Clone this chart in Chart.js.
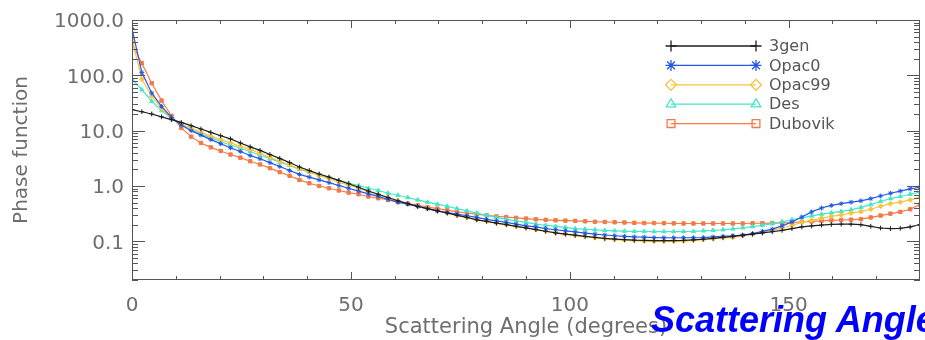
<!DOCTYPE html>
<html>
<head>
<meta charset="utf-8">
<title>Phase function</title>
<script src="https://cdn.jsdelivr.net/npm/chart.js@4"></script>
<style>
  html, body { margin: 0; padding: 0; background: #fff; }
  body { width: 925px; height: 340px; overflow: hidden; position: relative; }
  #phaseChart { display: block; }
  .overlay-title {
    position: absolute; left: 651px; top: 302px;
    font: italic bold 36px "Liberation Sans", Arial, sans-serif;
    line-height: 36px; color: #0000ff; white-space: nowrap;
  }
</style>
</head>
<body>
<canvas id="phaseChart" width="925" height="340"></canvas>
<div class="overlay-title">Scattering Angle</div>
<script>
// Scattering angles (degrees)
const angles = [
  0, 2.25, 4.5, 6.75, 9, 11.25, 13.5, 15.75, 18, 20.25,
  22.5, 24.75, 27, 29.25, 31.5, 33.75, 36, 38.25, 40.5, 42.75,
  45, 47.25, 49.5, 51.75, 54, 56.25, 58.5, 60.75, 63, 65.25,
  67.5, 69.75, 72, 74.25, 76.5, 78.75, 81, 83.25, 85.5, 87.75,
  90, 92.25, 94.5, 96.75, 99, 101.25, 103.5, 105.75, 108, 110.25,
  112.5, 114.75, 117, 119.25, 121.5, 123.75, 126, 128.25, 130.5, 132.75,
  135, 137.25, 139.5, 141.75, 144, 146.25, 148.5, 150.75, 153, 155.25,
  157.5, 159.75, 162, 164.25, 166.5, 168.75, 171, 173.25, 175.5, 177.75,
  180
];

// Phase function values
const gen3 = [
  24, 22, 20, 17.8, 15.8, 14.1, 12.3, 10.7, 9.3, 8.1,
  7.1, 6.0, 5.1, 4.4, 3.7, 3.15, 2.65, 2.2, 1.9, 1.65,
  1.45, 1.26, 1.1, 0.95, 0.81, 0.71, 0.62, 0.54, 0.48, 0.43,
  0.39, 0.355, 0.325, 0.295, 0.27, 0.245, 0.23, 0.213, 0.2, 0.187,
  0.175, 0.163, 0.152, 0.142, 0.135, 0.129, 0.123, 0.118, 0.113, 0.11,
  0.107, 0.105, 0.104, 0.103, 0.103, 0.103, 0.104, 0.106, 0.109, 0.113,
  0.118, 0.123, 0.129, 0.135, 0.142, 0.149, 0.158, 0.17, 0.182, 0.19,
  0.197, 0.202, 0.204, 0.204, 0.2, 0.187, 0.174, 0.17, 0.172, 0.182,
  0.2
];
const opac0 = [
  700, 112, 48, 27.5, 17.4, 12.6, 10, 8.3, 6.9, 5.8,
  4.9, 4.2, 3.55, 3.1, 2.65, 2.25, 1.9, 1.62, 1.45, 1.29,
  1.15, 1.02, 0.91, 0.81, 0.72, 0.65, 0.575, 0.51, 0.47, 0.425,
  0.39, 0.355, 0.33, 0.31, 0.29, 0.27, 0.25, 0.235, 0.22, 0.205,
  0.19, 0.182, 0.17, 0.162, 0.155, 0.148, 0.141, 0.135, 0.13, 0.126,
  0.123, 0.12, 0.119, 0.117, 0.116, 0.116, 0.116, 0.116, 0.117, 0.12,
  0.123, 0.126, 0.129, 0.138, 0.151, 0.166, 0.19, 0.224, 0.275, 0.34,
  0.4, 0.445, 0.48, 0.51, 0.54, 0.59, 0.66, 0.74, 0.81, 0.89,
  0.95
];
const opac99 = [
  450, 85, 42, 25, 17, 13.2, 11, 9.3, 7.9, 6.9,
  6.0, 5.2, 4.6, 3.9, 3.3, 2.8, 2.4, 2.05, 1.78, 1.55,
  1.35, 1.17, 1.05, 0.91, 0.79, 0.69, 0.62, 0.54, 0.48, 0.43,
  0.39, 0.355, 0.325, 0.295, 0.27, 0.245, 0.23, 0.213, 0.2, 0.187,
  0.175, 0.163, 0.152, 0.142, 0.134, 0.127, 0.122, 0.116, 0.111, 0.107,
  0.105, 0.103, 0.101, 0.1, 0.1, 0.1, 0.101, 0.104, 0.107, 0.111,
  0.115, 0.118, 0.126, 0.135, 0.145, 0.158, 0.174, 0.195, 0.22, 0.24,
  0.263, 0.282, 0.3, 0.325, 0.345, 0.38, 0.43, 0.48, 0.51, 0.56,
  0.62
];
const des = [
  85, 55, 34, 23, 16.6, 12.9, 10.5, 8.7, 7.4, 6.3,
  5.5, 4.8, 4.2, 3.6, 3.15, 2.7, 2.35, 2.0, 1.78, 1.58,
  1.41, 1.26, 1.12, 1.02, 0.91, 0.83, 0.74, 0.68, 0.62, 0.56,
  0.51, 0.47, 0.43, 0.39, 0.355, 0.325, 0.295, 0.27, 0.25, 0.235,
  0.22, 0.205, 0.195, 0.186, 0.178, 0.17, 0.166, 0.162, 0.158, 0.155,
  0.153, 0.151, 0.151, 0.15, 0.15, 0.15, 0.15, 0.151, 0.155, 0.158,
  0.162, 0.168, 0.176, 0.184, 0.195, 0.209, 0.226, 0.245, 0.266, 0.288,
  0.31, 0.327, 0.347, 0.37, 0.41, 0.46, 0.525, 0.59, 0.645, 0.71,
  0.78
];
const dubovik = [
  380, 165, 72, 35, 18.6, 11.2, 7.8, 6.0, 5.0, 4.3,
  3.7, 3.25, 2.8, 2.45, 2.1, 1.78, 1.53, 1.29, 1.12, 1.0,
  0.91, 0.83, 0.76, 0.71, 0.645, 0.6, 0.56, 0.51, 0.48, 0.45,
  0.415, 0.39, 0.365, 0.34, 0.325, 0.31, 0.295, 0.282, 0.275, 0.266,
  0.258, 0.25, 0.245, 0.24, 0.237, 0.234, 0.23, 0.226, 0.224, 0.221,
  0.219, 0.216, 0.214, 0.214, 0.212, 0.211, 0.21, 0.21, 0.21, 0.21,
  0.21, 0.21, 0.21, 0.212, 0.212, 0.214, 0.216, 0.219, 0.224, 0.229,
  0.234, 0.24, 0.243, 0.246, 0.251, 0.27, 0.292, 0.316, 0.34, 0.38,
  0.46
];

// Axis ticks
const xTickValues = [0, 50, 100, 150];
const yTickValues = [0.1, 1, 10, 100, 1000];

const seriesNames = ['3gen', 'Opac0', 'Opac99', 'Des', 'Dubovik'];
const seriesData = [gen3, opac0, opac99, des, dubovik];
const seriesColors = ['#1e1e1e', '#2457e6', '#f6c43e', '#44e6c8', '#f47a46'];
const seriesMarkers = ['cross', 'star', 'rectRot', 'triangle', 'rect'];

const axisGray = '#6e6e6e';
const frameGray = '#555';

// Inward ticks on all four sides plus the box frame
const frameTicks = {
  id: 'frameTicks',
  afterDatasetsDraw(chart) {
    const { ctx, chartArea: a, scales: { x, y } } = chart;
    ctx.save();
    ctx.strokeStyle = frameGray;
    ctx.lineWidth = 1;
    ctx.strokeRect(a.left + 0.5, a.top + 0.5, a.right - a.left - 1, a.bottom - a.top - 1);

    ctx.beginPath();
    for (let v = 10; v < 180; v += 10) {
      const px = Math.round(x.getPixelForValue(v)) + 0.5;
      const len = v % 50 === 0 ? 8 : 4;
      ctx.moveTo(px, a.bottom); ctx.lineTo(px, a.bottom - len);
      ctx.moveTo(px, a.top); ctx.lineTo(px, a.top + len);
    }
    [0.01, 0.1, 1, 10, 100].forEach(dec => {
      for (let m = 1; m <= 9; m++) {
        const v = m * dec;
        if (v < 0.02 || v > 1000) continue;
        const py = Math.round(y.getPixelForValue(v)) + 0.5;
        const len = m === 1 ? 13 : 6;
        ctx.moveTo(a.left, py); ctx.lineTo(a.left + len, py);
        ctx.moveTo(a.right, py); ctx.lineTo(a.right - len, py);
      }
    });
    ctx.stroke();
    ctx.restore();
  }
};

// Legend with a marker at both ends of each sample line
const endMarkerLegend = {
  id: 'endMarkerLegend',
  afterDraw(chart) {
    const { ctx, chartArea: a } = chart;
    const x1 = a.right - 249, x2 = a.right - 164, tx = a.right - 151;
    ctx.save();
    ctx.font = '16px "DejaVu Sans", sans-serif';
    ctx.textBaseline = 'middle';
    seriesNames.forEach((name, i) => {
      const ly = a.top + 26 + i * 19.4;
      ctx.strokeStyle = seriesColors[i];
      ctx.lineWidth = 1.3;
      ctx.beginPath();
      ctx.moveTo(x1, ly); ctx.lineTo(x2, ly);
      ctx.stroke();
      ctx.fillStyle = 'rgba(0,0,0,0)';
      [x1, x2].forEach(px => {
        Chart.helpers.drawPoint(ctx, { pointStyle: seriesMarkers[i], radius: 5.5, rotation: 0, borderWidth: 1.3 }, px, ly);
      });
      ctx.fillStyle = '#555';
      ctx.fillText(name, tx, ly + 1);
    });
    ctx.restore();
  }
};

const datasets = seriesNames.map((name, i) => ({
  label: name,
  data: angles.map((a, k) => ({ x: a, y: seriesData[i][k] })),
  borderColor: seriesColors[i],
  backgroundColor: seriesColors[i],
  borderWidth: 1.2,
  pointStyle: seriesMarkers[i],
  pointRadius: 2.4,
  pointBorderWidth: 1,
  tension: 0
}));

new Chart(document.getElementById('phaseChart').getContext('2d'), {
  type: 'line',
  data: { datasets: datasets },
  options: {
    responsive: false,
    animation: false,
    layout: { padding: { top: 13, right: 4, left: 0, bottom: 0 } },
    plugins: { legend: { display: false }, tooltip: { enabled: false } },
    scales: {
      x: {
        type: 'linear',
        min: 0,
        max: 180,
        grid: { display: false, drawTicks: false },
        border: { display: false },
        afterBuildTicks: (scale) => { scale.ticks = xTickValues.map(v => ({ value: v })); },
        afterFit: (scale) => { scale.height = 60; },
        ticks: {
          autoSkip: false,
          maxRotation: 0,
          padding: 14,
          color: axisGray,
          font: { family: 'DejaVu Sans', size: 20 }
        },
        title: {
          display: true,
          text: 'Scattering Angle (degrees)',
          color: axisGray,
          font: { family: 'DejaVu Sans', size: 21, lineHeight: 1.2 },
          padding: { top: 0, bottom: 0 }
        }
      },
      y: {
        type: 'logarithmic',
        min: 0.02,
        max: 1000,
        grid: { display: false, drawTicks: false },
        border: { display: false },
        afterBuildTicks: (scale) => { scale.ticks = yTickValues.map(v => ({ value: v })); },
        afterFit: (scale) => { scale.width = 132; },
        ticks: {
          autoSkip: false,
          padding: 8,
          labelOffset: 2,
          color: axisGray,
          font: { family: 'DejaVu Sans', size: 20 },
          callback: (v) => Number(v).toFixed(1)
        },
        title: {
          display: true,
          text: 'Phase function',
          color: axisGray,
          font: { family: 'DejaVu Sans', size: 20, lineHeight: 1.2 },
          padding: { top: 10, bottom: 0 }
        }
      }
    }
  },
  plugins: [frameTicks, endMarkerLegend]
});
</script>
</body>
</html>
